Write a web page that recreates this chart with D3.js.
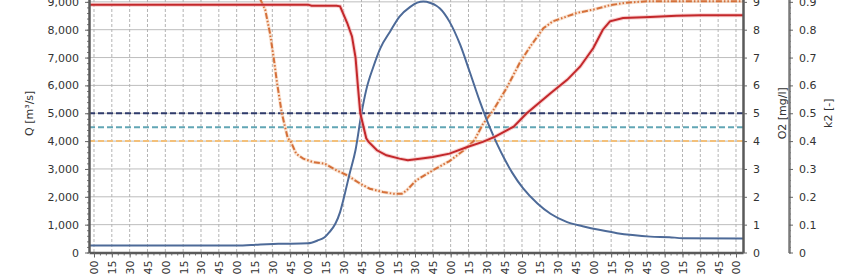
<!DOCTYPE html>
<html>
<head>
<meta charset="utf-8">
<script src="https://cdn.jsdelivr.net/npm/d3@7"></script>
<style>
  body { margin: 0; background: #fff; }
  svg text { font-family: "DejaVu Sans", Verdana, sans-serif; fill: #333; }
</style>
</head>
<body>
<div id="chart-div"></div>
<script>
// time is minutes from the first tick
const qTime  = [-5, 120, 140, 155, 180, 188, 194, 198, 203, 207, 211, 215, 220, 225, 229, 235, 241, 249, 257, 266, 272, 277, 283, 288, 291, 299, 308, 316, 325, 333, 339, 346, 352, 361, 373, 384, 398, 411, 426, 440, 453, 468, 484, 495, 546]
const qValue = [250, 250, 290, 310, 330, 430, 550, 730, 1030, 1450, 2110, 2830, 3680, 5000, 5840, 6670, 7350, 7930, 8470, 8820, 8970, 9010, 8960, 8860, 8760, 8290, 7460, 6490, 5370, 4480, 3900, 3300, 2850, 2300, 1760, 1390, 1090, 945, 805, 695, 625, 570, 550, 515, 500]

const o2Time  = [-5, 180, 183, 204, 207, 213, 217, 220, 222, 224, 229, 231, 238, 246, 257, 264, 274, 285, 299, 314, 327, 337, 353, 364, 384, 398, 409, 420, 428, 434, 445, 468, 490, 510, 546]
const o2Value = [8.9, 8.9, 8.86, 8.86, 8.84, 8.24, 7.76, 7.0, 5.96, 5.0, 4.1, 3.97, 3.67, 3.49, 3.37, 3.31, 3.37, 3.43, 3.55, 3.79, 3.97, 4.15, 4.52, 5.0, 5.72, 6.2, 6.68, 7.34, 8.0, 8.3, 8.42, 8.46, 8.5, 8.52, 8.52]

const k2Time  = [-5, 128, 140, 144, 148, 151, 154, 158, 163, 165, 170, 176, 184, 194, 204, 213, 224, 232, 243, 252, 259, 263, 271, 285, 299, 311, 320, 327, 336, 347, 358, 367, 378, 386, 406, 420, 434, 448, 465, 546]
const k2Value = [0.97, 0.97, 0.908, 0.872, 0.788, 0.704, 0.608, 0.5, 0.41, 0.403, 0.355, 0.337, 0.325, 0.319, 0.295, 0.277, 0.247, 0.229, 0.217, 0.211, 0.211, 0.223, 0.259, 0.295, 0.328, 0.367, 0.403, 0.46, 0.512, 0.59, 0.68, 0.74, 0.805, 0.83, 0.86, 0.872, 0.888, 0.897, 0.902, 0.902]

const limitValues = [5000, 4500, 4000]
const minuteLabels = ["00", "15", "30", "45"]
const qTicks = d3.range(0, 9001, 1000)
const o2Ticks = d3.range(0, 10, 1)
const k2Ticks = d3.range(0, 10, 1).map(d => d / 10)
const timeTicks = d3.range(0, 541, 15)

//**********************************************************************************************
//                                      CONSTANTS
//**********************************************************************************************
const WIDTH = 855
const HEIGHT = 277
const PLOT_LEFT = 89
const PLOT_RIGHT = 743
const PLOT_TOP = -26
const PLOT_BOTTOM = 252.5
const K2_AXIS_X = 789

const limitColors = ["#2f3b6b", "#62a6b5", "#f3c07a"]

const svg = d3.select("#chart-div").append("svg")
    .attr("width", WIDTH)
    .attr("height", HEIGHT)

const x = d3.scaleLinear().domain([-4.2, 545.9]).range([PLOT_LEFT, PLOT_RIGHT])
const yQ = d3.scaleLinear().domain([0, 10000]).range([PLOT_BOTTOM, PLOT_TOP])
const yO2 = d3.scaleLinear().domain([0, 10]).range([PLOT_BOTTOM, PLOT_TOP])
const yK2 = d3.scaleLinear().domain([0, 1]).range([PLOT_BOTTOM, PLOT_TOP])

svg.append("clipPath").attr("id", "plot-clip")
    .append("rect")
    .attr("x", PLOT_LEFT).attr("y", PLOT_TOP)
    .attr("width", PLOT_RIGHT - PLOT_LEFT).attr("height", PLOT_BOTTOM - PLOT_TOP)

// grid
const grid = svg.append("g")
grid.selectAll(".hgrid").data(d3.range(1000, 10001, 1000)).enter().append("line")
    .attr("x1", PLOT_LEFT).attr("x2", PLOT_RIGHT)
    .attr("y1", d => yQ(d)).attr("y2", d => yQ(d))
    .style("stroke", "#bdbdbd").style("stroke-width", 1)
grid.selectAll(".vgrid").data(timeTicks).enter().append("line")
    .attr("x1", d => x(d)).attr("x2", d => x(d))
    .attr("y1", PLOT_TOP).attr("y2", PLOT_BOTTOM)
    .style("stroke", "#b4b4b4").style("stroke-width", 1)
    .style("stroke-dasharray", "3,2")

const plot = svg.append("g").attr("clip-path", "url(#plot-clip)")

// limit lines
plot.selectAll(".limit").data(limitValues).enter().append("line")
    .attr("x1", PLOT_LEFT).attr("x2", PLOT_RIGHT)
    .attr("y1", d => yQ(d)).attr("y2", d => yQ(d))
    .style("stroke", (d, i) => limitColors[i])
    .style("stroke-width", 2)
    .style("stroke-dasharray", "6,3")

const qLine = d3.line().x((d, i) => x(qTime[i])).y(d => yQ(d)).curve(d3.curveMonotoneX)
const o2Line = d3.line().x((d, i) => x(o2Time[i])).y(d => yO2(d))
const k2Line = d3.line().x((d, i) => x(k2Time[i])).y(d => yK2(d))

plot.append("path").datum(k2Value)
    .attr("d", k2Line)
    .style("fill", "none").style("stroke", "#f6c9a8").style("stroke-width", 3.5).style("opacity", 0.5)
plot.append("path").datum(k2Value)
    .attr("d", k2Line)
    .style("fill", "none").style("stroke", "#d5703a").style("stroke-width", 2)
    .style("stroke-dasharray", "6,2,1.5,2,1.5,2")

plot.append("path").datum(qValue)
    .attr("d", qLine)
    .style("fill", "none").style("stroke", "#4d6a98").style("stroke-width", 2)

plot.append("path").datum(o2Value)
    .attr("d", o2Line)
    .style("fill", "none").style("stroke", "#f4b0b0").style("stroke-width", 4).style("opacity", 0.6)
plot.append("path").datum(o2Value)
    .attr("d", o2Line)
    .style("fill", "none").style("stroke", "#c3282b").style("stroke-width", 2)

// axes
function styleAxis(g){
    g.select(".domain").style("stroke", "#5a5a5a").style("stroke-width", 2.5)
    g.selectAll(".tick line").style("stroke", "#666")
    g.selectAll("text").style("font-size", "11px").style("fill", "#333")
}

const leftMinor = svg.append("g").attr("transform", `translate(${PLOT_LEFT},0)`)
    .call(d3.axisLeft(yQ).tickValues(d3.range(0, 10001, 200)).tickSize(2).tickFormat(""))
leftMinor.select(".domain").remove()
leftMinor.selectAll("line").style("stroke", "#777")

const leftAxis = svg.append("g").attr("transform", `translate(${PLOT_LEFT},0)`)
    .call(d3.axisLeft(yQ).tickValues(qTicks).tickFormat(d3.format(",")).tickSize(4).tickPadding(6).tickSizeOuter(0))
styleAxis(leftAxis)

const bottomMinor = svg.append("g").attr("transform", `translate(0,${PLOT_BOTTOM})`)
    .call(d3.axisBottom(x).tickValues(d3.range(0, 541, 5)).tickSize(3).tickFormat(""))
bottomMinor.select(".domain").remove()
bottomMinor.selectAll("line").style("stroke", "#777")

const bottomAxis = svg.append("g").attr("transform", `translate(0,${PLOT_BOTTOM})`)
    .call(d3.axisBottom(x).tickValues(timeTicks).tickSize(5).tickSizeOuter(0)
        .tickFormat((d, i) => minuteLabels[i % 4]))
styleAxis(bottomAxis)
bottomAxis.selectAll("text")
    .attr("transform", "rotate(-90)")
    .attr("text-anchor", "end")
    .attr("x", -8).attr("y", 0).attr("dy", "0.35em")

const o2Axis = svg.append("g").attr("transform", `translate(${PLOT_RIGHT},0)`)
    .call(d3.axisRight(yO2).tickValues(o2Ticks).tickSize(4).tickPadding(6).tickSizeOuter(0))
styleAxis(o2Axis)

const k2Minor = svg.append("g").attr("transform", `translate(${K2_AXIS_X},0)`)
    .call(d3.axisRight(yK2).tickValues(d3.range(0, 101, 2).map(d => d / 100)).tickSize(2).tickFormat(""))
k2Minor.select(".domain").remove()
k2Minor.selectAll("line").style("stroke", "#777")

const k2Axis = svg.append("g").attr("transform", `translate(${K2_AXIS_X},0)`)
    .call(d3.axisRight(yK2).tickValues(k2Ticks).tickSize(4).tickPadding(6).tickSizeOuter(0)
        .tickFormat(d => d === 0 ? "0" : d3.format(".1f")(d)))
styleAxis(k2Axis)
k2Axis.select(".domain").style("stroke", "#7a7a7a")

// axis titles
const midY = (PLOT_TOP + PLOT_BOTTOM) / 2
const titles = [["Q [m³/s]", 29], ["O2 [mg/l]", 782], ["k2 [-]", 828]]
svg.selectAll(".title").data(titles).enter().append("text")
    .attr("transform", d => `translate(${d[1]},${midY}) rotate(-90)`)
    .attr("text-anchor", "middle")
    .attr("dy", "0.35em")
    .style("font-size", "11px")
    .text(d => d[0])
</script>
</body>
</html>
